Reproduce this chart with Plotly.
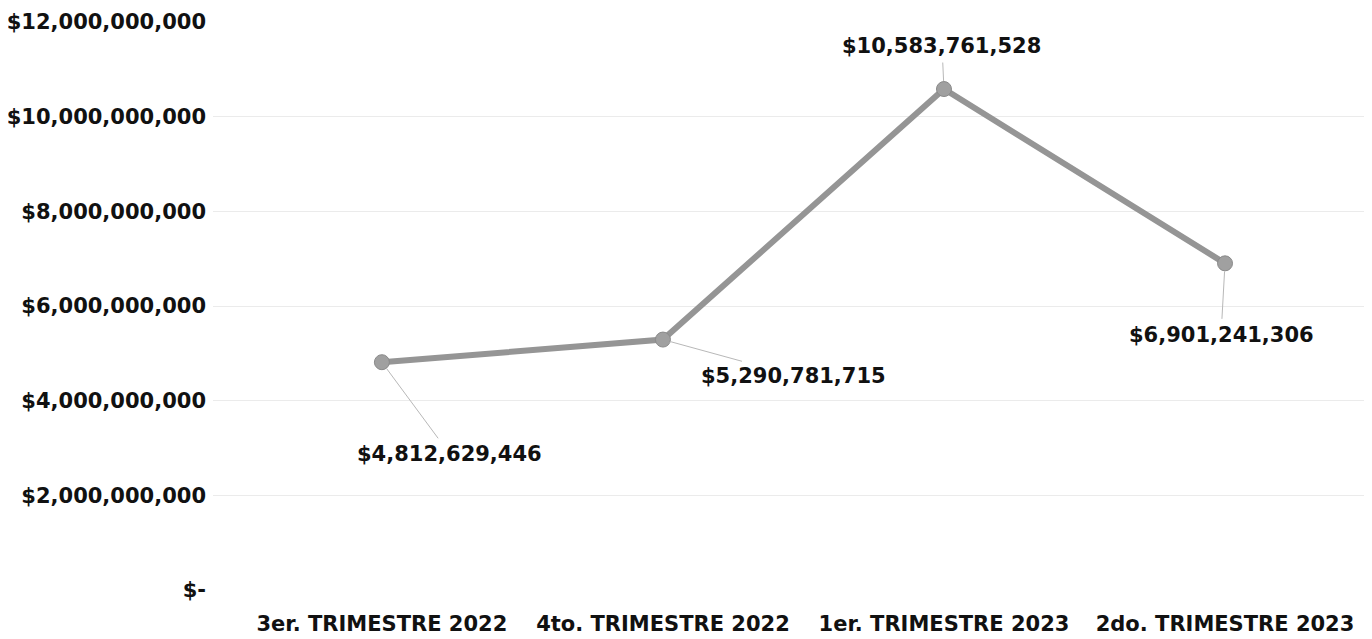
import plotly.graph_objects as go

categories = ["3er. TRIMESTRE 2022", "4to. TRIMESTRE 2022", "1er. TRIMESTRE 2023", "2do. TRIMESTRE 2023"]
values = [4812629446, 5290781715, 10583761528, 6901241306]
ytick_vals = [0, 2e9, 4e9, 6e9, 8e9, 10e9, 12e9]
ytick_text = ["$-", "$2,000,000,000", "$4,000,000,000", "$6,000,000,000",
              "$8,000,000,000", "$10,000,000,000", "$12,000,000,000"]
label_offsets = [(68, 92), (131, 36), (-2, -43), (-4, 72)]

FONT = "DejaVu Sans"
fig = go.Figure()
fig.add_trace(go.Scatter(
    x=list(range(len(categories))), y=values, mode="lines+markers",
    line=dict(color="#959595", width=6),
    marker=dict(size=15, color="#a0a0a0", line=dict(color="#8a8a8a", width=1)),
    hoverinfo="skip", showlegend=False))

for i, (v, (ax, ay)) in enumerate(zip(values, label_offsets)):
    fig.add_annotation(x=i, y=v, text=f"${v:,.0f}", showarrow=True, arrowhead=0,
                       arrowwidth=1, arrowcolor="#b8b8b8", ax=ax, ay=ay,
                       standoff=8, startstandoff=3,
                       font=dict(family=FONT, size=21, color="#111111", weight="bold"))

fig.update_layout(
    width=1364, height=631, paper_bgcolor="white", plot_bgcolor="white",
    margin=dict(l=205, r=0, t=14, b=49),
    font=dict(family=FONT, size=21, color="#111111"),
    xaxis=dict(range=[-0.601, 3.523], tickvals=list(range(len(categories))), ticktext=categories,
               showgrid=False, zeroline=False, showline=False, ticks="",
               automargin=False, ticklabelstandoff=19,
               tickfont=dict(family=FONT, size=21, color="#111111", weight="bold")),
    yaxis=dict(range=[0, 12e9], tickvals=ytick_vals, ticktext=ytick_text,
               showgrid=True, gridcolor="#ebebeb", gridwidth=1, zeroline=False,
               showline=False, ticks="", automargin=False, ticklabelstandoff=6,
               tickfont=dict(family=FONT, size=21, color="#111111", weight="bold")),
)
fig.write_html("out.html")
